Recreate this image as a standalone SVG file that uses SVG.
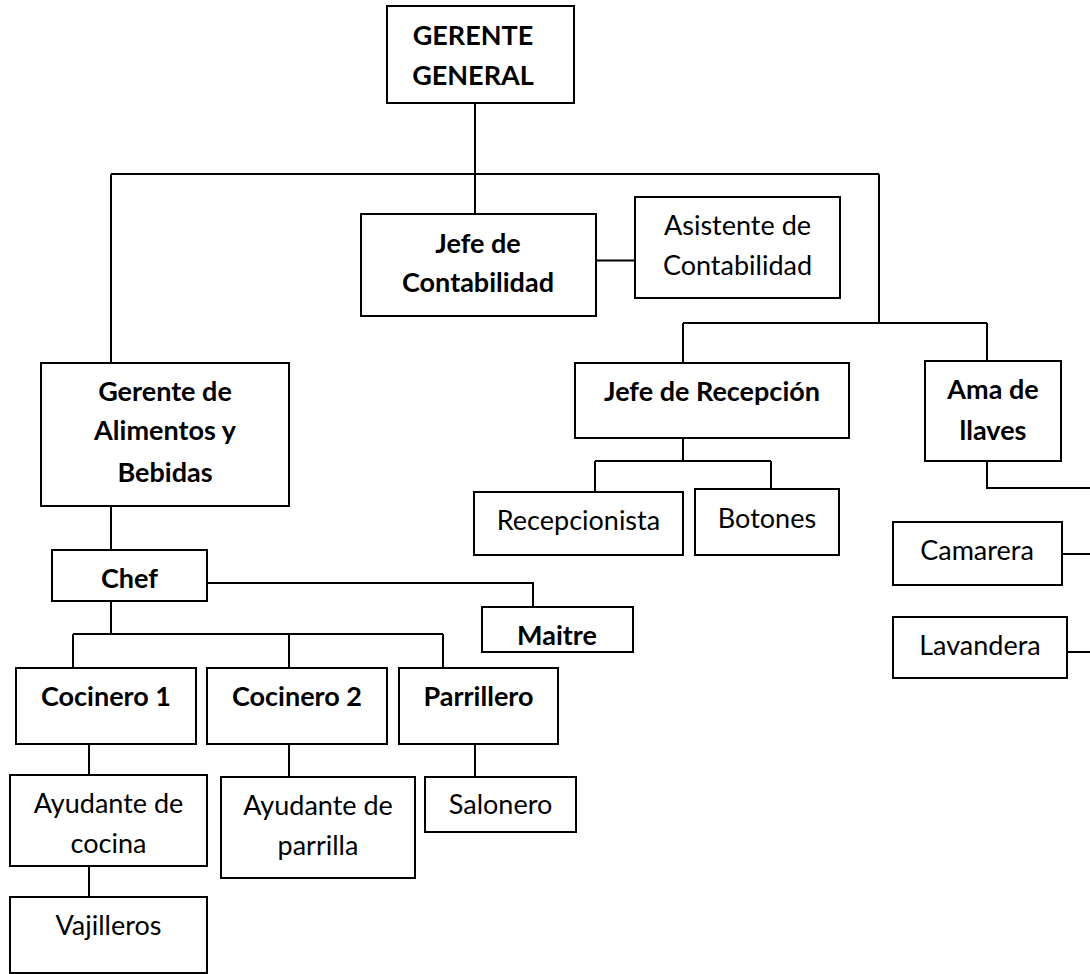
<svg xmlns="http://www.w3.org/2000/svg" width="1090" height="974" viewBox="0 0 1090 974">
<style>
.box{fill:#fff;stroke:#000;stroke-width:2}
.t{font-family:Lato,"Liberation Sans",sans-serif;font-size:27px;fill:#000;text-anchor:middle}
.b{font-weight:bold}
.c{fill:none;stroke:#000;stroke-width:2}
</style>
<rect width="1090" height="974" fill="#fff"/>
<g id="connectors" class="c">
<path d="M475,103V214"/>
<path d="M111,174H879"/>
<path d="M111,174V363"/>
<path d="M879,174V323"/>
<path d="M683,323H987"/>
<path d="M683,323V363"/>
<path d="M987,323V361"/>
<path d="M596,260.5H635"/>
<path d="M683,438V461"/>
<path d="M595,461H771"/>
<path d="M595,461V492"/>
<path d="M771,461V489"/>
<path d="M987,461V488H1090"/>
<path d="M1062,554H1090"/>
<path d="M1067,652H1090"/>
<path d="M111,506V550"/>
<path d="M207,583H533V607"/>
<path d="M111,601V634"/>
<path d="M73,634H443"/>
<path d="M73,634V668"/>
<path d="M289,634V668"/>
<path d="M443,634V668"/>
<path d="M89,744V775"/>
<path d="M289,744V777"/>
<path d="M475,744V777"/>
<path d="M89,866V897"/>
</g>
<g id="gerente-general"><rect class="box" x="387" y="6" width="187" height="97"/><text class="t b" x="473" y="45">GERENTE</text><text class="t b" x="473" y="85">GENERAL</text></g>
<g id="jefe-contabilidad"><rect class="box" x="361" y="214" width="235" height="102"/><text class="t b" x="478" y="253">Jefe de</text><text class="t b" x="478" y="292">Contabilidad</text></g>
<g id="asistente-contabilidad"><rect class="box" x="635" y="197" width="205" height="101"/><text class="t" x="737.5" y="235">Asistente de</text><text class="t" x="737.5" y="275">Contabilidad</text></g>
<g id="gerente-ab"><rect class="box" x="41" y="363" width="248" height="143"/><text class="t b" x="165" y="401">Gerente de</text><text class="t b" x="165" y="440">Alimentos y</text><text class="t b" x="165" y="482">Bebidas</text></g>
<g id="jefe-recepcion"><rect class="box" x="575" y="363" width="274" height="75"/><text class="t b" x="712" y="401">Jefe de Recepción</text></g>
<g id="ama-llaves"><rect class="box" x="925" y="361" width="136" height="100"/><text class="t b" x="993" y="399">Ama de</text><text class="t b" x="993" y="440">llaves</text></g>
<g id="recepcionista"><rect class="box" x="474" y="492" width="209" height="63"/><text class="t" x="578.5" y="530">Recepcionista</text></g>
<g id="botones"><rect class="box" x="695" y="489" width="144" height="66"/><text class="t" x="767" y="528">Botones</text></g>
<g id="camarera"><rect class="box" x="893" y="522" width="169" height="63"/><text class="t" x="977" y="560">Camarera</text></g>
<g id="lavandera"><rect class="box" x="893" y="617" width="174" height="61"/><text class="t" x="980" y="655">Lavandera</text></g>
<g id="chef"><rect class="box" x="52" y="550" width="155" height="51"/><text class="t b" x="129.5" y="588">Chef</text></g>
<g id="maitre"><rect class="box" x="482" y="607" width="151" height="45"/><text class="t b" x="557" y="645">Maitre</text></g>
<g id="cocinero1"><rect class="box" x="16" y="668" width="180" height="76"/><text class="t b" x="106" y="706">Cocinero 1</text></g>
<g id="cocinero2"><rect class="box" x="207" y="668" width="180" height="76"/><text class="t b" x="297" y="706">Cocinero 2</text></g>
<g id="parrillero"><rect class="box" x="399" y="668" width="159" height="76"/><text class="t b" x="478.5" y="706">Parrillero</text></g>
<g id="ayudante-cocina"><rect class="box" x="10" y="775" width="197" height="91"/><text class="t" x="108.5" y="813">Ayudante de</text><text class="t" x="108.5" y="853">cocina</text></g>
<g id="ayudante-parrilla"><rect class="box" x="221" y="777" width="194" height="101"/><text class="t" x="318" y="815">Ayudante de</text><text class="t" x="318" y="855">parrilla</text></g>
<g id="salonero"><rect class="box" x="425" y="777" width="151" height="55"/><text class="t" x="500.5" y="814">Salonero</text></g>
<g id="vajilleros"><rect class="box" x="10" y="897" width="197" height="76"/><text class="t" x="108.5" y="935">Vajilleros</text></g>
</svg>
